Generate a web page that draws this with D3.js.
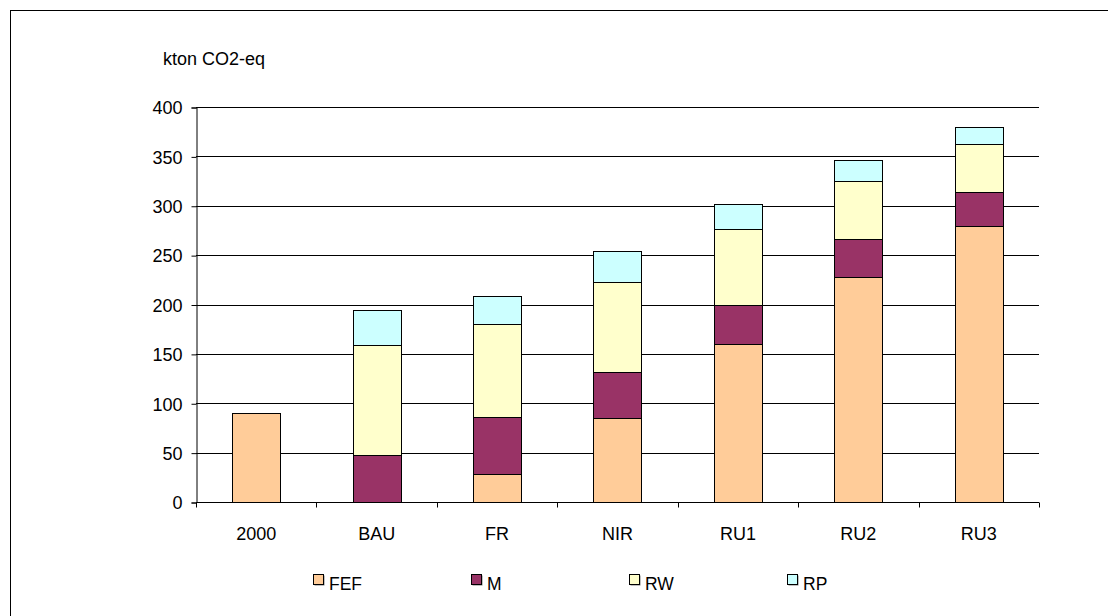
<!DOCTYPE html>
<html>
<head>
<meta charset="utf-8">
<script src="https://cdn.jsdelivr.net/npm/d3@7"></script>
<style>
  html, body { margin: 0; padding: 0; background: #fff; }
  svg text { font-family: "Liberation Sans", Arial, sans-serif; fill: #000; }
</style>
</head>
<body>
<svg id="chart" width="1108" height="616"></svg>
<script>
// Scenario categories along the x axis
const categories = ["2000", "BAU", "FR", "NIR", "RU1", "RU2", "RU3"];
// Emission components (kton CO2-eq), stacked bottom to top
const seriesNames = ["FEF", "M", "RW", "RP"];
const FEF = [90, 0, 28, 85, 160, 228, 279];
const M   = [0, 48, 58, 47, 40, 38, 35];
const RW  = [0, 111, 94, 91, 76, 59, 49];
const RP  = [0, 35, 29, 31, 26, 21, 17];
const yTicks = [0, 50, 100, 150, 200, 250, 300, 350, 400];
const colors = ["#FFCC99", "#993366", "#FFFFCC", "#CCFFFF"];

const rows = categories.map((c, i) => ({
  cat: c, FEF: FEF[i], M: M[i], RW: RW[i], RP: RP[i]
}));

const svg = d3.select("#chart");

// Outer frame (continues past the right and bottom edges of the window)
svg.append("rect")
  .attr("x", 10.5).attr("y", 10.5)
  .attr("width", 1200).attr("height", 700)
  .attr("fill", "#fff").attr("stroke", "#000").attr("stroke-width", 1);

const plot = { left: 196, right: 1039, top: 107, bottom: 502 };

const x = d3.scaleBand()
  .domain(categories)
  .range([plot.left, plot.right])
  .paddingInner(0.6).paddingOuter(0.3);

const xOuter = d3.scaleBand().domain(categories).range([plot.left, plot.right]);

const y = d3.scaleLinear().domain([0, 400]).range([plot.bottom, plot.top]);

// Horizontal gridlines
svg.append("g").selectAll("line")
  .data(yTicks.filter(t => t > 0))
  .join("line")
  .attr("x1", plot.left).attr("x2", plot.right)
  .attr("y1", d => Math.round(y(d)) + 0.5).attr("y2", d => Math.round(y(d)) + 0.5)
  .attr("stroke", "#000").attr("stroke-width", 1);

// Stacked bars
const stack = d3.stack().keys(seriesNames);
const layers = stack(rows);

svg.append("g").selectAll("g")
  .data(layers)
  .join("g")
  .attr("fill", (d, i) => colors[i])
  .selectAll("rect")
  .data(d => d.filter(s => s[1] - s[0] > 0))
  .join("rect")
  .attr("x", d => Math.round(x(d.data.cat)) + 0.5)
  .attr("width", Math.round(x.bandwidth()))
  .attr("y", d => Math.round(y(d[1])) + 0.5)
  .attr("height", d => Math.round(y(d[0])) - Math.round(y(d[1])))
  .attr("stroke", "#000").attr("stroke-width", 1);

// Y axis
const yAxis = d3.axisLeft(y).tickValues(yTicks).tickSize(5).tickPadding(9).tickFormat(d3.format("d"));
const gy = svg.append("g")
  .attr("transform", `translate(${plot.left + 0.5},0.5)`)
  .call(yAxis);
gy.select(".domain").attr("stroke", "#000");
gy.selectAll(".tick line").attr("stroke", "#000");
gy.selectAll(".tick text").attr("font-size", 18).attr("dy", "0.35em");

// X axis: ticks sit on the category boundaries
const gx = svg.append("g").attr("transform", `translate(0,${plot.bottom + 0.5})`);
gx.append("line")
  .attr("x1", plot.left).attr("x2", plot.right)
  .attr("stroke", "#000");
const bounds = categories.map(c => xOuter(c)).concat([plot.right]);
gx.selectAll("line.tk")
  .data(bounds)
  .join("line").attr("class", "tk")
  .attr("x1", d => Math.round(d) + 0.5).attr("x2", d => Math.round(d) + 0.5)
  .attr("y1", 0).attr("y2", 5)
  .attr("stroke", "#000");
gx.selectAll("text")
  .data(categories)
  .join("text")
  .attr("x", d => xOuter(d) + xOuter.bandwidth() / 2)
  .attr("y", 37)
  .attr("text-anchor", "middle")
  .attr("font-size", 18)
  .text(d => d);

// Unit label
svg.append("text")
  .attr("x", 163).attr("y", 65)
  .attr("font-size", 18)
  .text("kton CO2-eq");

// Legend
const legendX = d3.scalePoint().domain(seriesNames).range([313, 787]);
const lg = svg.append("g").selectAll("g")
  .data(seriesNames)
  .join("g")
  .attr("transform", d => `translate(${legendX(d)},574)`);
lg.append("rect")
  .attr("x", 1.5).attr("y", 1.5).attr("width", 10).attr("height", 10)
  .attr("fill", "#808080");
lg.append("rect")
  .attr("x", 0.5).attr("y", 0.5).attr("width", 10).attr("height", 10)
  .attr("fill", (d, i) => colors[i]).attr("stroke", "#000");
lg.append("text")
  .attr("x", 16).attr("y", 16)
  .attr("font-size", 17.5)
  .text(d => d);
</script>
</body>
</html>
